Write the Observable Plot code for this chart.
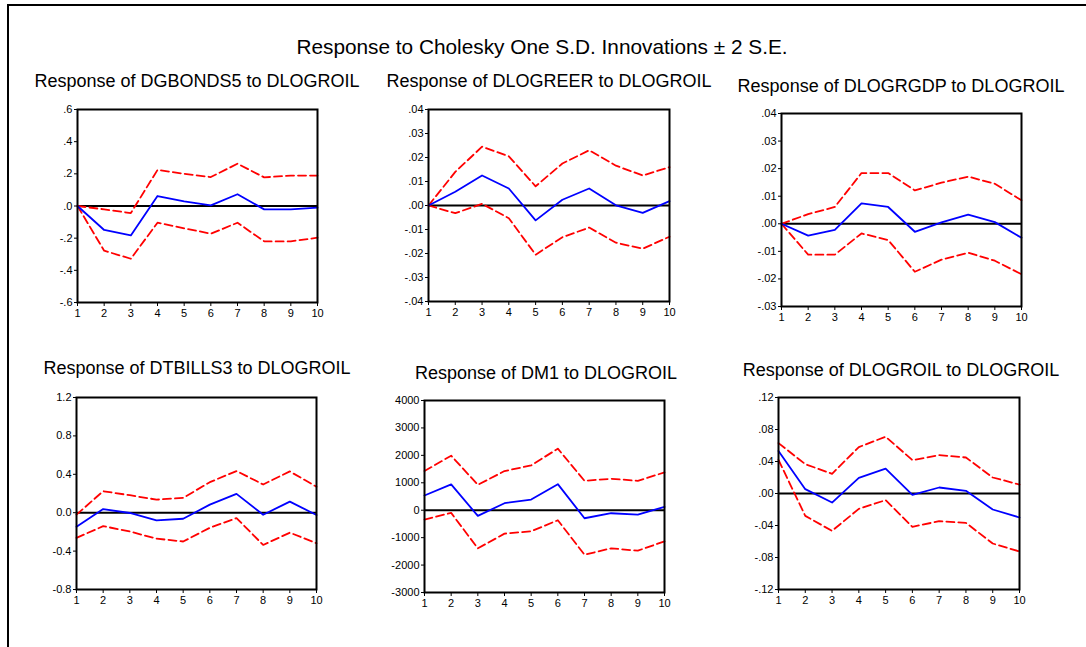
<!DOCTYPE html>
<html>
<head>
<meta charset="utf-8">
<script src="https://cdn.jsdelivr.net/npm/d3@7"></script>
<script src="https://cdn.jsdelivr.net/npm/@observablehq/plot@0.6"></script>
<style>
  html, body { margin: 0; padding: 0; background: #fff; }
  body { width: 1086px; height: 647px; position: relative; overflow: hidden; font-family: "Liberation Sans", Arial, sans-serif; }
  #frame { position: absolute; left: 7px; top: 4px; width: 1200px; height: 800px; border-left: 2px solid #000; border-top: 2px solid #000; }
  .ttl { position: absolute; white-space: nowrap; line-height: 1; color: #000; transform: translate(-50%, -50%); }
  .panel { position: absolute; }
</style>
</head>
<body>
<div id="frame"></div>
<div id="root"></div>
<script>
// ---------- data ----------
const periods = [1, 2, 3, 4, 5, 6, 7, 8, 9, 10];
const mainTitle = "Response to Cholesky One S.D. Innovations \u00b1 2 S.E.";
const panelTitles = [
  "Response of DGBONDS5 to DLOGROIL",
  "Response of DLOGREER to DLOGROIL",
  "Response of DLOGRGDP to DLOGROIL",
  "Response of DTBILLS3 to DLOGROIL",
  "Response of DM1 to DLOGROIL",
  "Response of DLOGROIL to DLOGROIL"
];

// DGBONDS5
const bondsResp  = [0, -0.149, -0.183, 0.062, 0.029, 0.004, 0.073, -0.021, -0.021, -0.010];
const bondsUpper = [0, -0.021, -0.044, 0.224, 0.200, 0.180, 0.263, 0.178, 0.189, 0.189];
const bondsLower = [0, -0.278, -0.328, -0.104, -0.139, -0.172, -0.104, -0.220, -0.220, -0.197];
const bondsTicks = [0.6, 0.4, 0.2, 0, -0.2, -0.4, -0.6];
const bondsLabels = [".6", ".4", ".2", ".0", "-.2", "-.4", "-.6"];

// DLOGREER
const reerResp  = [0, 0.0057, 0.0125, 0.0071, -0.0062, 0.0024, 0.0071, 0.0001, -0.0031, 0.0018];
const reerUpper = [0, 0.0140, 0.0245, 0.0205, 0.0080, 0.0175, 0.0230, 0.0166, 0.0125, 0.0160];
const reerLower = [0, -0.0032, 0.0007, -0.0053, -0.0205, -0.0132, -0.0092, -0.0155, -0.0180, -0.0130];
const reerTicks = [0.04, 0.03, 0.02, 0.01, 0, -0.01, -0.02, -0.03, -0.04];
const reerLabels = [".04", ".03", ".02", ".01", ".00", "-.01", "-.02", "-.03", "-.04"];

// DLOGRGDP
const gdpResp  = [0, -0.0043, -0.0022, 0.0074, 0.0061, -0.0029, 0.0005, 0.0033, 0.0006, -0.0051];
const gdpUpper = [0, 0.0035, 0.0061, 0.0184, 0.0184, 0.0121, 0.0149, 0.0171, 0.0145, 0.0085];
const gdpLower = [0, -0.0112, -0.0112, -0.0035, -0.0059, -0.0174, -0.0130, -0.0105, -0.0134, -0.0183];
const gdpTicks = [0.04, 0.03, 0.02, 0.01, 0, -0.01, -0.02, -0.03];
const gdpLabels = [".04", ".03", ".02", ".01", ".00", "-.01", "-.02", "-.03"];

// DTBILLS3
const billsResp  = [-0.147, 0.038, -0.003, -0.080, -0.063, 0.084, 0.196, -0.021, 0.115, -0.024];
const billsUpper = [-0.020, 0.224, 0.182, 0.136, 0.154, 0.318, 0.434, 0.294, 0.430, 0.270];
const billsLower = [-0.262, -0.140, -0.196, -0.270, -0.300, -0.157, -0.056, -0.336, -0.208, -0.318];
const billsTicks = [1.2, 0.8, 0.4, 0, -0.4, -0.8];
const billsLabels = ["1.2", "0.8", "0.4", "0.0", "-0.4", "-0.8"];

// DM1
const m1Resp  = [537, 940, -207, 256, 390, 950, -293, -110, -159, 122];
const m1Upper = [1427, 1988, 927, 1427, 1634, 2244, 1073, 1146, 1073, 1378];
const m1Lower = [-341, -98, -1390, -854, -768, -366, -1622, -1390, -1476, -1134];
const m1Ticks = [4000, 3000, 2000, 1000, 0, -1000, -2000, -3000];
const m1Labels = ["4000", "3000", "2000", "1000", "0", "-1000", "-2000", "-3000"];

// DLOGROIL
const oilResp  = [0.053, 0.0054, -0.0113, 0.0196, 0.031, -0.0017, 0.0075, 0.0033, -0.020, -0.030];
const oilUpper = [0.063, 0.0367, 0.0246, 0.058, 0.071, 0.0417, 0.048, 0.045, 0.020, 0.0112];
const oilLower = [0.042, -0.028, -0.0467, -0.0192, -0.0083, -0.0417, -0.0346, -0.0367, -0.0625, -0.0725];
const oilTicks = [0.12, 0.08, 0.04, 0, -0.04, -0.08, -0.12];
const oilLabels = [".12", ".08", ".04", ".00", "-.04", "-.08", "-.12"];

// ---------- layout ----------
const panels = [
  {title: panelTitles[0], resp: bondsResp, upper: bondsUpper, lower: bondsLower, ticks: bondsTicks, labels: bondsLabels, x0: 77, x1: 317, y0: 109, y1: 302, tx: 197, ty: 81},
  {title: panelTitles[1], resp: reerResp, upper: reerUpper, lower: reerLower, ticks: reerTicks, labels: reerLabels, x0: 428, x1: 669, y0: 109, y1: 301, tx: 549, ty: 81},
  {title: panelTitles[2], resp: gdpResp, upper: gdpUpper, lower: gdpLower, ticks: gdpTicks, labels: gdpLabels, x0: 781, x1: 1021, y0: 113, y1: 306, tx: 901, ty: 86},
  {title: panelTitles[3], resp: billsResp, upper: billsUpper, lower: billsLower, ticks: billsTicks, labels: billsLabels, x0: 76, x1: 316, y0: 397, y1: 589, tx: 197, ty: 368},
  {title: panelTitles[4], resp: m1Resp, upper: m1Upper, lower: m1Lower, ticks: m1Ticks, labels: m1Labels, x0: 424, x1: 664, y0: 400, y1: 592, tx: 546, ty: 373},
  {title: panelTitles[5], resp: oilResp, upper: oilUpper, lower: oilLower, ticks: oilTicks, labels: oilLabels, x0: 778, x1: 1019, y0: 397, y1: 589, tx: 901, ty: 370}
];

const root = document.getElementById("root");

function addTitle(text, x, y, size) {
  const d = document.createElement("div");
  d.className = "ttl";
  d.textContent = text;
  d.style.left = x + "px";
  d.style.top = y + "px";
  d.style.fontSize = size + "px";
  root.appendChild(d);
}

addTitle(mainTitle, 542, 47, 20.8);

const ML = 45, MR = 10, MT = 8, MB = 22;

for (const cfg of panels) {
  const rows = vals => periods.map((p, i) => ({p, v: vals[i]}));
  const ext = d3.extent(cfg.ticks);
  const chart = Plot.plot({
    width: (cfg.x1 - cfg.x0) + ML + MR,
    height: (cfg.y1 - cfg.y0) + MT + MB,
    marginLeft: ML, marginRight: MR, marginTop: MT, marginBottom: MB,
    style: {fontFamily: "'Liberation Sans', Arial, sans-serif", fontSize: "11px", background: "transparent", color: "#000", overflow: "visible"},
    x: {domain: [1, 10], ticks: periods, tickFormat: d => String(d), tickSize: 4, tickPadding: 3, label: null},
    y: {domain: ext, ticks: cfg.ticks, tickFormat: d => {
          const i = cfg.ticks.findIndex(t => Math.abs(t - d) < 1e-9);
          return i >= 0 ? cfg.labels[i] : "";
        }, tickSize: 3, tickPadding: 2, label: null},
    marks: [
      Plot.ruleY([0], {stroke: "#000", strokeWidth: 2}),
      Plot.line(rows(cfg.upper), {x: "p", y: "v", stroke: "#ff0000", strokeWidth: 1.8, strokeDasharray: "8,4"}),
      Plot.line(rows(cfg.lower), {x: "p", y: "v", stroke: "#ff0000", strokeWidth: 1.8, strokeDasharray: "8,4"}),
      Plot.line(rows(cfg.resp), {x: "p", y: "v", stroke: "#0000ff", strokeWidth: 1.8}),
      Plot.frame({stroke: "#000", strokeWidth: 2})
    ]
  });
  const wrap = document.createElement("div");
  wrap.className = "panel";
  wrap.style.left = (cfg.x0 - ML) + "px";
  wrap.style.top = (cfg.y0 - MT) + "px";
  wrap.appendChild(chart);
  root.appendChild(wrap);
  addTitle(cfg.title, cfg.tx, cfg.ty, 18);
}
</script>
</body>
</html>
